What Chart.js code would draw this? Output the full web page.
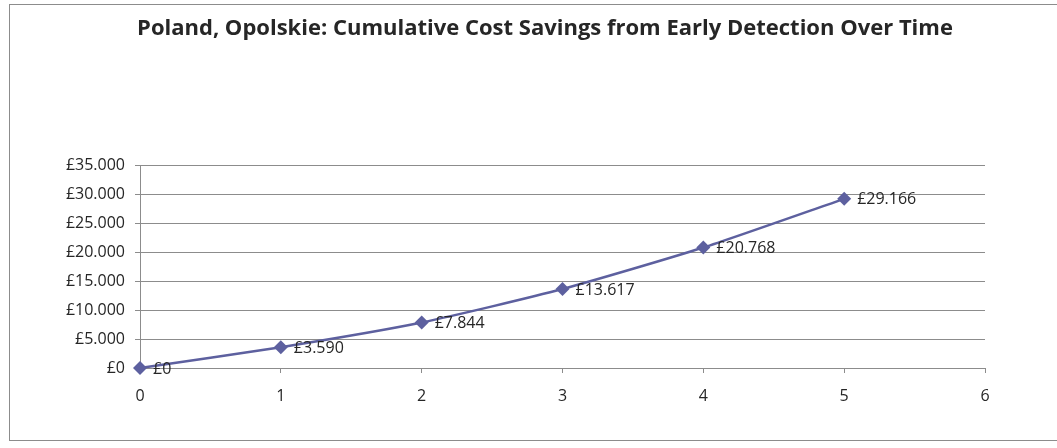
<!DOCTYPE html>
<html>
<head>
<meta charset="utf-8">
<script src="https://cdn.jsdelivr.net/npm/chart.js@4/dist/chart.umd.min.js"></script>
<style>
  html, body { margin: 0; padding: 0; background: #fff; }
  #wrap { position: absolute; left: 0; top: 0; width: 1057px; height: 448px; }
</style>
</head>
<body>
<div id="wrap"><canvas id="chart" width="1057" height="448"></canvas></div>
<script>
    'use strict';

    const chartTitle = 'Poland, Opolskie: Cumulative Cost Savings from Early Detection Over Time';
    const years = [0, 1, 2, 3, 4, 5];
    const savings = [0, 3590, 7844, 13617, 20768, 29166];
    const yTicks = [0, 5000, 10000, 15000, 20000, 25000, 30000, 35000];
    const xTicks = [0, 1, 2, 3, 4, 5, 6];

    const TEXT = '#262626';
    const GRID = '#8c8c8c';
    const SERIES = '#5d609f';
    const FONT = '"Open Sans", sans-serif';

    // pound with dot as thousands separator, e.g. £29.166
    function pounds(v) {
        return '£' + String(Math.round(v)).replace(/\B(?=(\d{3})+(?!\d))/g, '.');
    }

    // outer chart frame (open on the right, like the original) + title over the whole frame
    const framePlugin = {
        id: 'frame',
        beforeDraw(chart) {
            const ctx = chart.ctx;
            ctx.save();
            ctx.strokeStyle = GRID;
            ctx.lineWidth = 1;
            ctx.strokeRect(9.5, 4.5, 1060, 436);
            ctx.font = 'bold 22px ' + FONT;
            ctx.fillStyle = TEXT;
            ctx.textAlign = 'center';
            ctx.textBaseline = 'middle';
            ctx.fillText(chartTitle, 545, 29);
            ctx.restore();
        }
    };

    // value labels to the right of each marker
    const labelPlugin = {
        id: 'valueLabels',
        afterDatasetsDraw(chart) {
            const ctx = chart.ctx;
            const meta = chart.getDatasetMeta(0);
            ctx.save();
            ctx.font = '16px ' + FONT;
            ctx.fillStyle = TEXT;
            ctx.textAlign = 'left';
            ctx.textBaseline = 'middle';
            meta.data.forEach((pt, i) => {
                ctx.fillText(pounds(savings[i]), pt.x + 13, pt.y + 1);
            });
            ctx.restore();
        }
    };

    new Chart(document.getElementById('chart').getContext('2d'), {
        type: 'line',
        data: {
            datasets: [{
                data: years.map((x, i) => ({ x: x, y: savings[i] })),
                borderColor: SERIES,
                backgroundColor: SERIES,
                borderWidth: 2.5,
                tension: 0.2,
                clip: false,
                pointStyle: 'rectRot',
                pointRadius: 7,
                pointHoverRadius: 7,
                pointBorderWidth: 0
            }]
        },
        options: {
            responsive: false,
            animation: false,
            layout: { padding: { left: 0, right: 72, top: 165, bottom: 0 } },
            plugins: {
                legend: { display: false },
                tooltip: { enabled: false }
            },
            scales: {
                x: {
                    type: 'linear',
                    min: 0,
                    max: 6,
                    afterBuildTicks(scale) { scale.ticks = xTicks.map(v => ({ value: v })); },
                    afterFit(scale) { scale.height = 80; },
                    grid: { drawOnChartArea: false, drawTicks: true, tickLength: 5, color: GRID },
                    border: { color: GRID },
                    ticks: { color: TEXT, font: { family: FONT, size: 16 }, padding: 14, maxRotation: 0 }
                },
                y: {
                    min: 0,
                    max: 35000,
                    afterBuildTicks(scale) { scale.ticks = yTicks.map(v => ({ value: v })); },
                    afterFit(scale) { scale.width = 140; },
                    grid: { color: GRID, tickLength: 5 },
                    border: { color: GRID },
                    ticks: { color: TEXT, font: { family: FONT, size: 16 }, padding: 10, callback: v => pounds(v) }
                }
            }
        },
        plugins: [framePlugin, labelPlugin]
    });
</script>
</body>
</html>
